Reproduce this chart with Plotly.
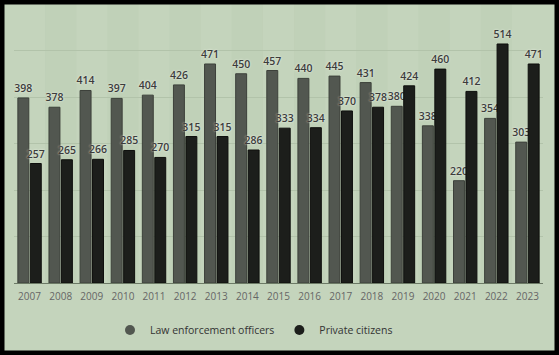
import plotly.graph_objects as go

years = [str(y) for y in range(2007, 2024)]
law = [398, 378, 414, 397, 404, 426, 471, 450, 457, 440, 445, 431, 380, 338, 220, 354, 303]
private = [257, 265, 266, 285, 270, 315, 315, 286, 333, 334, 370, 378, 424, 460, 412, 514, 471]

LAW_C = "#525750"
PRIV_C = "#1c1e1b"
BG = "#c4d4bc"
BAND = "#bccdb4"
FONT = "Open Sans"

W, H = 559, 355
ml, mr, mt, mb = 14, 16, 10, 72
pw, ph = W - ml - mr, H - mt - mb

fig = go.Figure()

label_font = dict(family=FONT, size=10.5, color="#3c3c3c", weight=600, shadow="0px 0px 2px #f4f8f0")

fig.add_trace(go.Bar(
    x=years, y=law, name="Law enforcement officers", marker=dict(color=LAW_C, line=dict(color="#3c403a", width=1)),
    text=law, textposition="outside", textfont=label_font, cliponaxis=False, showlegend=False,
    constraintext="none", hoverinfo="skip",
))
fig.add_trace(go.Bar(
    x=years, y=private, name="Private citizens", marker=dict(color=PRIV_C, line=dict(color="#0e0f0d", width=1)),
    text=private, textposition="outside", textfont=label_font, cliponaxis=False, showlegend=False,
    constraintext="none", hoverinfo="skip",
))
# legend entries with circle markers
fig.add_trace(go.Scatter(x=[None], y=[None], mode="markers", name="Law enforcement officers",
                         marker=dict(color=LAW_C, size=10, symbol="circle")))
fig.add_trace(go.Scatter(x=[None], y=[None], mode="markers", name="Private citizens",
                         marker=dict(color=PRIV_C, size=10, symbol="circle")))

shapes = []
# alternating vertical bands
for i, y in enumerate(years):
    if i % 2 == 1:
        shapes.append(dict(type="rect", xref="x", yref="paper", x0=i - 0.5, x1=i + 0.5, y0=0, y1=1 + mt / ph,
                           fillcolor=BAND, line=dict(width=0), layer="below", opacity=0.5))
# outer black frame
shapes.append(dict(type="rect", xref="paper", yref="paper",
                   x0=-ml / pw, x1=1 + mr / pw, y0=-mb / ph, y1=1 + mt / ph,
                   line=dict(color="#000000", width=9), fillcolor="rgba(0,0,0,0)", layer="above"))

fig.update_layout(
    width=W, height=H,
    margin=dict(l=ml, r=mr, t=mt, b=mb, autoexpand=False),
    paper_bgcolor=BG, plot_bgcolor=BG,
    bargap=0.2, bargroupgap=0.12, barmode="group",
    font=dict(family=FONT, size=11, color="#555"),
    xaxis=dict(type="category", range=[-0.5, 16.5], showgrid=False, showline=True,
               linecolor="#6c7a66", linewidth=1, ticks="outside", ticklen=4, tickcolor="rgba(0,0,0,0)",
               tickfont=dict(size=10, color="#666", family=FONT)),
    yaxis=dict(range=[0, ph / 0.465], dtick=100, showgrid=True, gridcolor="#b2c3aa", gridwidth=1,
               showticklabels=False, zeroline=False, showline=False),
    legend=dict(orientation="h", x=(132 - 22 - ml) / pw, xanchor="left", y=-(330 - 283) / ph, yanchor="middle",
                itemwidth=30, font=dict(size=10.5, color="#333", family=FONT), bgcolor="rgba(0,0,0,0)"),
    shapes=shapes,
)

fig.write_html("out.html", config={"displayModeBar": False},
               post_script="document.body.style.margin='0px';document.body.style.padding='0px';")
